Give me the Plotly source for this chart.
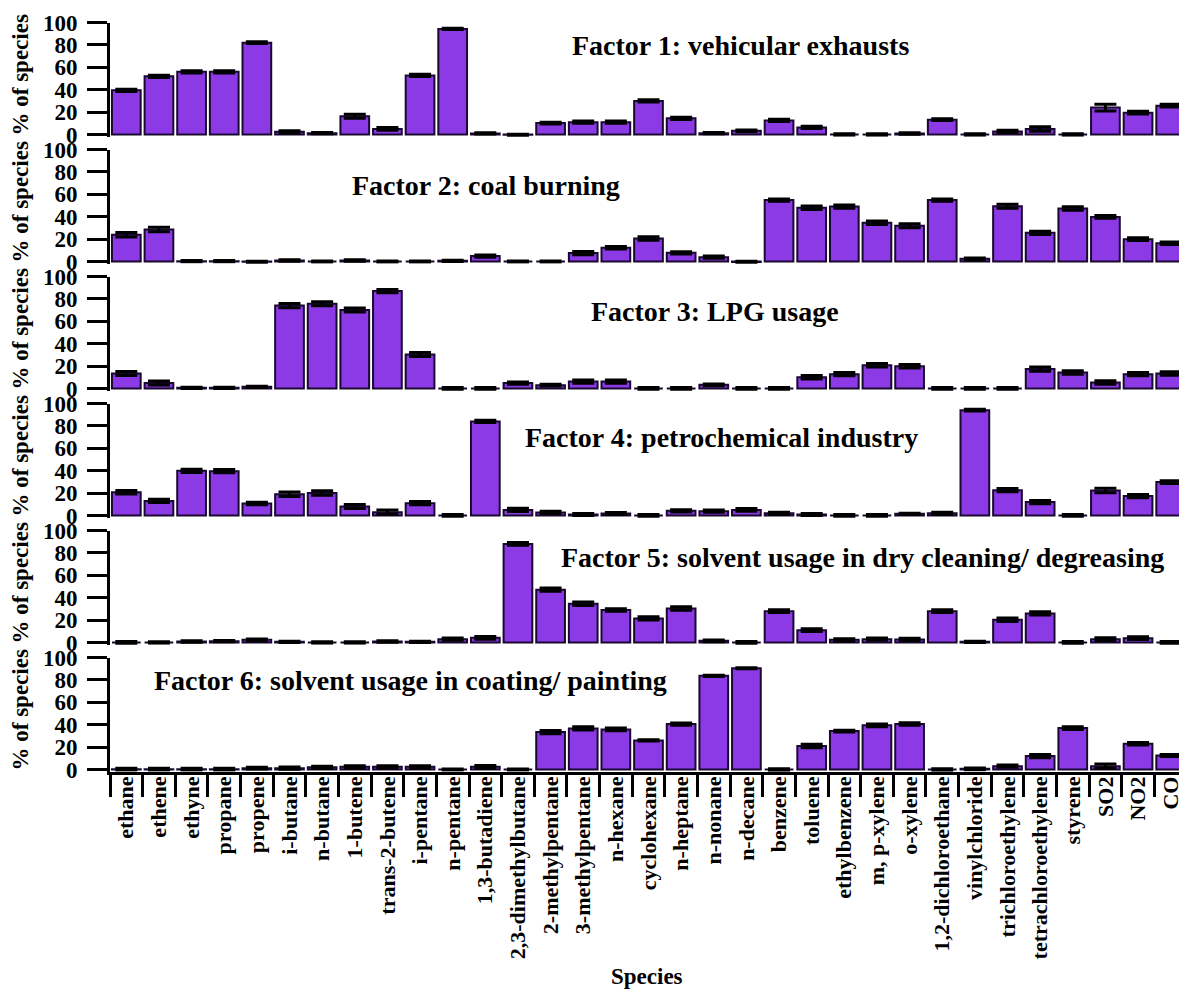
import plotly.graph_objects as go

species = ["ethane", "ethene", "ethyne", "propane", "propene", "i-butane", "n-butane",
           "1-butene", "trans-2-butene", "i-pentane", "n-pentane", "1,3-butadiene",
           "2,3-dimethylbutane", "2-methylpentane", "3-methylpentane", "n-hexane",
           "cyclohexane", "n-heptane", "n-nonane", "n-decane", "benzene", "toluene",
           "ethylbenzene", "m, p-xylene", "o-xylene", "1,2-dichloroethane", "vinylchloride",
           "trichloroethylene", "tetrachloroethylene", "styrene", "SO2", "NO2", "CO"]

factor_titles = ["Factor 1: vehicular exhausts",
                 "Factor 2: coal burning",
                 "Factor 3: LPG usage",
                 "Factor 4: petrochemical industry",
                 "Factor 5: solvent usage in dry cleaning/ degreasing",
                 "Factor 6: solvent usage in coating/ painting"]

f1 = [39.5, 52, 56, 56, 82, 2.4, 1.2, 16.2, 5, 52.7, 94.3, 1, -0.3, 10.2, 11, 11, 30, 14.4,
      1.2, 3.3, 12.6, 6.3, 0, 0, 0.9, 13.2, 0, 2.7, 5, 0, 24, 19.5, 25.7]
f1_err = [1, 1, 1, 1, 0.8, 1, 0.6, 1.8, 1.2, 1, 0.6, 0.6, 0.6, 0.8, 1, 1, 1, 1,
          0.6, 0.8, 1, 1, 0.6, 0.6, 0.6, 0.8, 0.6, 1, 2, 0.6, 3, 1.2, 1.2]

f2 = [23.8, 28.6, 0.3, 0.3, -0.3, 0.9, 0, 0.9, 0, 0, 0.6, 4.8, 0, 0, 7.5, 12.3, 20.5, 7.8,
      3.9, -0.5, 54.8, 48, 49, 34.6, 32, 54.8, 2.4, 49.4, 25.6, 47.3, 39.8, 19.9, 16.3]
f2_err = [2, 2, 0.5, 0.5, 0.5, 0.6, 0.5, 0.6, 0.5, 0.5, 0.6, 1, 0.5, 0.5, 1.5, 1.2, 1.5, 1,
          1, 0.8, 1, 1.5, 1.5, 1.5, 1.8, 1, 0.8, 1.8, 1.5, 1.5, 1.2, 1.2, 1.2]

f3 = [13.4, 5, 0.6, 0.6, 1.5, 74, 75.6, 70, 87, 30.4, 0, 0, 4.8, 3, 6.2, 6.2, 0, 0,
      3.3, 0, 0, 10, 12.8, 20.8, 19.9, 0, 0, 0, 17.3, 14.3, 5.4, 12.8, 13.4]
f3_err = [1.8, 1.8, 0.5, 0.5, 0.6, 1.8, 1.8, 1.8, 1.5, 1.8, 0.8, 0.8, 1, 0.8, 1.5, 1.5, 0.8, 0.8,
          0.8, 0.8, 0.8, 1.5, 1.5, 1.5, 1.5, 0.8, 0.8, 0.8, 2, 1.5, 1.5, 1.5, 1.5]

f4 = [20.8, 13, 39.9, 39.6, 10.7, 19, 20, 8, 3, 11, 0, 84, 5, 2.7, 0.9, 1.8, 0, 4.2,
      3.9, 5, 2, 0.9, 0, 0, 1.5, 2, 94, 22.6, 12, 0, 22.3, 17.3, 29.8]
f4_err = [1.5, 1.5, 1.5, 1.5, 1.2, 2, 2, 1.8, 1.8, 1.5, 0.8, 1, 1.5, 1, 0.8, 0.8, 0.8, 1,
          1, 1.2, 1, 0.8, 0.8, 0.8, 0.6, 1, 0.8, 1.5, 1.5, 0.8, 2, 1.5, 1.2]

f5 = [0, 0, 0.9, 1.2, 2.4, 0.6, 0, 0, 0.9, 0.6, 3, 4.2, 88, 47.2, 34.6, 29, 21.5, 30.4,
      1.5, 0, 28, 11, 2.4, 3, 2.7, 28, 0.6, 20.3, 26, 0, 3, 3.9, 0]
f5_err = [0.8, 0.6, 0.6, 0.6, 0.8, 0.6, 0.6, 0.6, 0.6, 0.6, 1, 1.2, 1.2, 1.5, 1.5, 1.2, 1.5, 1.5,
          0.8, 0.8, 1.2, 1.2, 1, 1, 1, 1.2, 0.5, 1.5, 1.5, 0.8, 1.2, 1.2, 0.8]

f6 = [0.3, 0.3, 0.3, 0.3, 1.2, 1.2, 2, 2.4, 2.4, 2.4, 0, 2.4, 0, 33.4, 36.7, 35.8, 26, 40.6,
      83.6, 90.4, 0, 21, 34.3, 39.4, 40.6, 0, 0.6, 3, 12, 37, 3, 23, 12.5]
f6_err = [0.8, 0.8, 0.8, 0.8, 0.8, 1, 1, 1, 1, 1, 0.5, 1.2, 0.5, 1.5, 1.5, 1.2, 0.6, 1,
          0.6, 0.5, 0.6, 1.5, 0.8, 1.2, 1.2, 0.6, 0.8, 1, 1.5, 1.2, 1.8, 1.2, 1]

factors = [f1, f2, f3, f4, f5, f6]
errors = [f1_err, f2_err, f3_err, f4_err, f5_err, f6_err]

# page body has an 8px margin: lay out in page pixels, then convert
OFF = 8
W, H = 1187 - OFF, 989 - OFF
SERIF = "Liberation Serif"
BAR_COLOR = "#8C3AE6"


def px(x):
    return (x - OFF) / W


def py(y):
    return 1 - (y - OFF) / H


fig = go.Figure()
x_dom = [px(110), min(1.0, px(1187))]

# title positions in page pixels (centre)
title_pos = [(741, 46), (486, 185), (715, 311), (721, 437), (862, 557), (410, 680)]

for k in range(6):
    idx = "" if k == 0 else str(k + 1)
    fig.add_trace(go.Bar(
        x=species, y=factors[k],
        xaxis="x" + idx, yaxis="y" + idx,
        marker=dict(color=BAR_COLOR, line=dict(color="#1a0830", width=2)),
        error_y=dict(type="data", array=errors[k], visible=True,
                     color="black", thickness=3, width=11),
        showlegend=False,
    ))
    top = 22.5 + 127 * k
    bot = top + 114.24
    ydom = [py(bot), py(top)]
    last = (k == 5)
    xa = dict(domain=x_dom, anchor="y" + idx, type="category",
              range=[-0.5, len(species) - 0.5], automargin=False,
              showgrid=False, zeroline=False, fixedrange=True)
    if last:
        xa.update(showline=True, linewidth=3, linecolor="black",
                  ticks="outside", ticklen=22, tickwidth=3, tickcolor="black",
                  tickson="boundaries", tickangle=-90, ticklabelstandoff=-7,
                  tickfont=dict(family=SERIF, size=22, color="black", weight="bold"),
                  showticklabels=True)
    else:
        xa.update(showline=False, ticks="", showticklabels=False)
    ya = dict(domain=ydom, anchor="x" + idx, range=[-2, 100], automargin=False,
              tickvals=[0, 20, 40, 60, 80, 100],
              showline=True, linewidth=3, linecolor="black",
              ticks="outside", ticklen=20, tickwidth=3, tickcolor="black",
              ticklabelstandoff=5,
              tickfont=dict(family=SERIF, size=23, color="black", weight="bold"),
              showgrid=False, zeroline=False, fixedrange=True)
    fig.layout["xaxis" + idx] = xa
    fig.layout["yaxis" + idx] = ya

    fig.add_annotation(text=factor_titles[k], xref="paper", yref="paper",
                       x=px(title_pos[k][0]), y=py(title_pos[k][1]),
                       xanchor="center", yanchor="middle", showarrow=False,
                       font=dict(family=SERIF, size=28, color="black", weight="bold"))
    fig.add_annotation(text="% of species", xref="paper", yref="paper",
                       x=px(20), y=py(top + 53), textangle=-90,
                       xanchor="center", yanchor="middle", showarrow=False,
                       font=dict(family=SERIF, size=23, color="black", weight="bold"))

fig.add_annotation(text="Species", xref="paper", yref="paper",
                   x=px(647), y=py(976), xanchor="center", yanchor="middle",
                   showarrow=False,
                   font=dict(family=SERIF, size=23, color="black", weight="bold"))

fig.update_layout(width=W, height=H, margin=dict(l=0, r=0, t=0, b=0, autoexpand=False),
                  plot_bgcolor="white", paper_bgcolor="white",
                  bargap=0.12)

fig.write_html("out.html")
